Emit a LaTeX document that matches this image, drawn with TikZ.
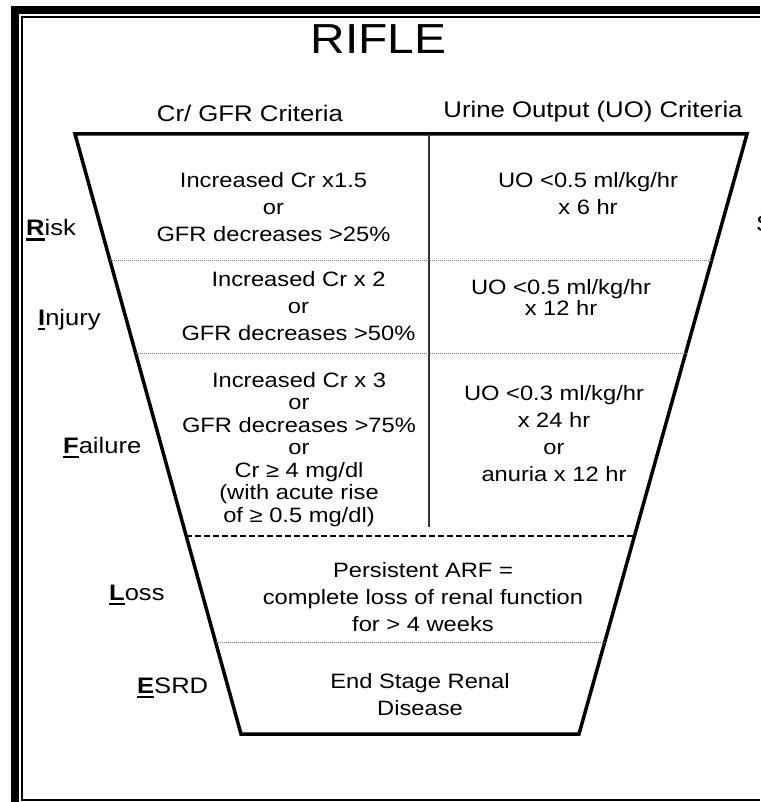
\documentclass[tikz,border=0pt]{standalone}
\usepackage{fontspec}
\setmainfont{Liberation Sans}[FakeStretch=1.14]
\usetikzlibrary{calc}
\tikzset{funnel/.style={line width=3.5pt, line join=miter}}
\tikzset{dotrule/.style={line width=1pt, gray, dash pattern=on 1pt off 1pt}}
\tikzset{dashrule/.style={line width=2pt, dash pattern=on 6pt off 3pt}}
\tikzset{cell/.style={align=center, inner sep=0pt, font=\fontsize{20.8}{27}\selectfont}}
\tikzset{stage/.style={anchor=base west, inner sep=0pt, font=\fontsize{22.4}{30}\selectfont}}
\tikzset{header/.style={inner sep=0pt, font=\fontsize{22.6}{30}\selectfont}}
\newcommand{\keyletter}[1]{\setbox0\hbox{\textbf{#1}}\rlap{\rule[-5pt]{\wd0}{2.5pt}}\box0}

\begin{document}
\begin{tikzpicture}[x=1pt, y=-1pt]
      \useasboundingbox (0,0) rectangle (760,802);

      % frame
      \draw[line width=8pt] (15,802) -- (15,10) -- (760,10);
      \draw[line width=2pt] (760,17) -- (22,17) -- (22,799.5) -- (760,799.5);

      \node[inner sep=0pt, font=\fontsize{42}{46}\selectfont] (title) at (378.5,39) {RIFLE};
      \node[header] (crhead) at (250,113) {Cr/ GFR Criteria};
      \node[header] (uohead) at (593,112) {Urine Output (UO) Criteria};

      % funnel
      \coordinate (TL) at (75,134);
      \coordinate (TR) at (747,134);
      \coordinate (BR) at (579,734);
      \coordinate (BL) at (241,734);
      \draw[funnel] (TL) -- (TR) -- (BR) -- (BL) -- cycle;
      \draw[line width=1.8pt, black!80] (429,134) -- (429,527);
      \foreach \t in {0.21, 0.365, 0.848}
        \draw[dotrule] ($(TL)!\t!(BL)$) -- ($(TR)!\t!(BR)$);
      \draw[dashrule] ($(TL)!0.67!(BL)$) -- ($(TR)!0.67!(BR)$);

      \node[stage] (risk) at (26,236) {\keyletter{R}isk};
      \node[stage] (injury) at (38,325) {\keyletter{I}njury};
      \node[stage] (failure) at (63,453) {\keyletter{F}ailure};
      \node[stage] (loss) at (109,600) {\keyletter{L}oss};
      \node[stage] (esrd) at (137,693) {\keyletter{E}SRD};
      \node[stage] (cut) at (756,231) {S};

      \node[cell] (riskcr) at (273.5,207.5) {Increased Cr x1.5\\or\\GFR decreases >25\%};
      \node[cell] (riskuo) at (588,193.5) {UO <0.5 ml/kg/hr\\x 6 hr};
      \node[cell] (injurycr) at (298.5,306.5) {Increased Cr x 2\\or\\GFR decreases >50\%};
      \node[cell, font=\fontsize{20.8}{21}\selectfont] (injuryuo) at (561,297.5) {UO <0.5 ml/kg/hr\\x 12 hr};
      \node[cell, font=\fontsize{20.8}{22.5}\selectfont] (failurecr) at (299,449.5)
        {Increased Cr x 3\\or\\GFR decreases >75\%\\or\\Cr ≥ 4 mg/dl\\(with acute rise\\of ≥ 0.5 mg/dl)};
      \node[cell] (failureuo) at (554,434) {UO <0.3 ml/kg/hr\\x 24 hr\\or\\anuria x 12 hr};
      \node[cell] (losstxt) at (423,597) {Persistent ARF =\\complete loss of renal function\\for > 4 weeks};
      \node[cell] (esrdtxt) at (420,694.5) {End Stage Renal\\Disease};
\end{tikzpicture}
\end{document}
